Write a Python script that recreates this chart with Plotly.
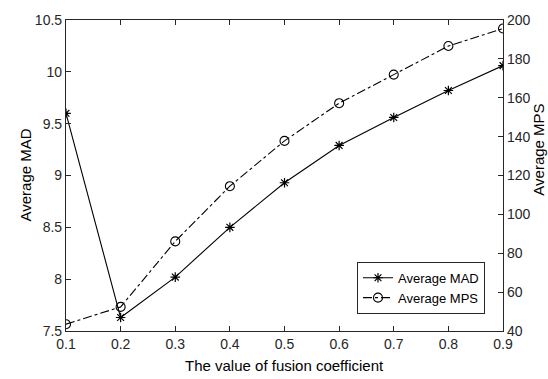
import plotly.graph_objects as go

# ---- data ----
fusion_coef = [0.1, 0.2, 0.3, 0.4, 0.5, 0.6, 0.7, 0.8, 0.9]
avg_mad = [9.60, 7.63, 8.02, 8.50, 8.93, 9.29, 9.56, 9.82, 10.06]
avg_mps = [43.5, 52.4, 86.1, 114.5, 137.8, 157.2, 171.9, 186.6, 195.6]
x_ticks = [0.1, 0.2, 0.3, 0.4, 0.5, 0.6, 0.7, 0.8, 0.9]
x_tick_text = ["0.1", "0.2", "0.3", "0.4", "0.5", "0.6", "0.7", "0.8", "0.9"]
y1_ticks = [7.5, 8, 8.5, 9, 9.5, 10, 10.5]
y1_tick_text = ["7.5", "8", "8.5", "9", "9.5", "10", "10.5"]
y2_ticks = [40, 60, 80, 100, 120, 140, 160, 180, 200]

W, H = 548, 379
L, R, T, B = 66, 503, 12, 331
FONT = "Liberation Sans, Arial, sans-serif"
AX = "#262626"

def px(xp):
    return (xp - L) / (R - L)

def py(yp):
    return (B - yp) / (B - T)

fig = go.Figure()
fig.add_trace(go.Scatter(
    x=fusion_coef, y=avg_mad, name="Average MAD", mode="lines+markers",
    line=dict(color="black", width=1.1),
    marker=dict(symbol="asterisk-open", size=8, color="black", line=dict(width=1.2, color="black")),
    yaxis="y"))
fig.add_trace(go.Scatter(
    x=fusion_coef, y=avg_mps, name="Average MPS", mode="lines+markers",
    line=dict(color="black", width=1.1, dash="dashdot"),
    marker=dict(symbol="circle-open", size=9, color="black", line=dict(width=1.1, color="black")),
    yaxis="y2"))

axis_common = dict(showgrid=False, zeroline=False, showline=True, linecolor=AX, linewidth=1.2,
                   ticks="inside", ticklen=5, tickcolor=AX, tickwidth=1,
                   ticklabeloverflow="allow",
                   tickfont=dict(family=FONT, size=14, color=AX))

fig.update_layout(
    width=W, height=H,
    margin=dict(l=L, r=W - R, t=T, b=H - B, pad=0),
    paper_bgcolor="white", plot_bgcolor="white",
    font=dict(family=FONT, color=AX),
    showlegend=True,
    legend=dict(x=px(485), y=py(260), xanchor="right", yanchor="top",
                bgcolor="white", bordercolor=AX, borderwidth=1,
                font=dict(family=FONT, size=13, color="black"),
                tracegroupgap=0, itemwidth=30),
    xaxis=dict(range=[0.1, 0.9], tickvals=x_ticks, ticktext=x_tick_text, mirror="ticks", **axis_common),
    yaxis=dict(range=[7.5, 10.5], tickvals=y1_ticks, ticktext=y1_tick_text, **axis_common),
    yaxis2=dict(range=[40, 200], tickvals=y2_ticks, overlaying="y", side="right", **axis_common),
    annotations=[
        dict(text="The value of fusion coefficient", xref="paper", yref="paper",
             x=px(284), y=py(366), xanchor="center", yanchor="middle", showarrow=False,
             font=dict(family=FONT, size=15, color="black")),
        dict(text="Average MAD", xref="paper", yref="paper", textangle=-90,
             x=px(25), y=py(171.5), xanchor="center", yanchor="middle", showarrow=False,
             font=dict(family=FONT, size=15, color="black")),
        dict(text="Average MPS", xref="paper", yref="paper", textangle=-90,
             x=px(539), y=py(145), xanchor="center", yanchor="middle", showarrow=False,
             font=dict(family=FONT, size=15, color="black")),
    ],
)

# remove the browser's default 8px body margin so the figure sits at the page origin
fig.write_html("out.html", config={"displayModeBar": False},
               post_script="document.body.style.margin='0px';")
